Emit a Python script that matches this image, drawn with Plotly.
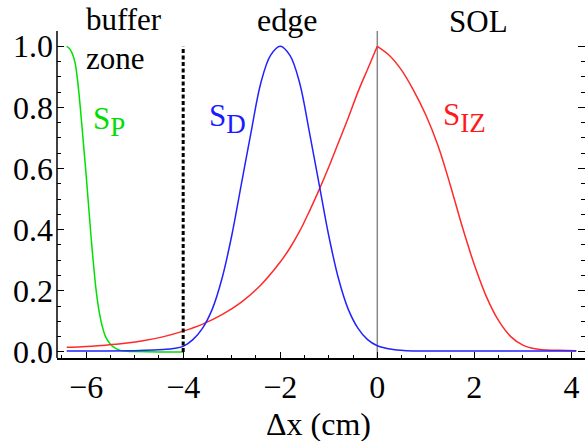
import plotly.graph_objects as go

# ---- data ----
sp_x = [-6.40, -6.33, -6.27, -6.22, -6.17, -6.12, -6.06, -6.00, -5.95, -5.90, -5.85,
        -5.80, -5.74, -5.67, -5.60, -5.50, -5.40, -5.30, -5.15, -5.00, -4.50, -4.00]
sp_y = [1.00, 0.99, 0.97, 0.94, 0.88, 0.80, 0.69, 0.58, 0.48, 0.38, 0.29,
        0.21, 0.14, 0.085, 0.05, 0.025, 0.012, 0.005, 0.002, 0.001, 0.0, 0.0]

sd_x = [-6.40, -5.60, -5.00, -4.60, -4.40, -4.20, -4.00, -3.80, -3.60, -3.40, -3.20, -3.00,
        -2.80, -2.60, -2.40, -2.20, -2.00, -1.80, -1.60, -1.40, -1.20, -1.00, -0.80,
        -0.60, -0.40, -0.20, 0.00, 0.20, 0.40, 0.60, 1.00, 2.00, 3.00, 4.10]
sd_y = [0.003, 0.003, 0.004, 0.006, 0.008, 0.011, 0.018, 0.040, 0.078, 0.14, 0.24, 0.38,
        0.55, 0.72, 0.88, 0.97, 1.00, 0.97, 0.88, 0.72, 0.55, 0.38, 0.24,
        0.14, 0.078, 0.040, 0.020, 0.011, 0.006, 0.004, 0.003, 0.003, 0.003, 0.003]

# S_IZ: inner side (x <= 0) and outer side (x >= 0) of the peak at the separatrix
siz_in_x = [-6.40, -6.00, -5.60, -5.20, -4.80, -4.40, -4.00, -3.60, -3.20, -2.80, -2.40,
            -2.00, -1.80, -1.60, -1.40, -1.20, -1.00, -0.80, -0.60, -0.40, -0.20, 0.00]
siz_in_y = [0.015, 0.018, 0.022, 0.028, 0.037, 0.050, 0.068, 0.091, 0.122, 0.163, 0.219,
            0.294, 0.340, 0.395, 0.460, 0.530, 0.605, 0.685, 0.765, 0.850, 0.925, 1.000]
siz_out_x = [0.00, 0.25, 0.50, 0.75, 1.00, 1.25, 1.50, 1.75, 2.00, 2.25, 2.50, 2.75,
             3.00, 3.25, 3.50, 3.75, 4.10]
siz_out_y = [1.000, 0.970, 0.922, 0.855, 0.775, 0.675, 0.548, 0.410, 0.285, 0.180, 0.102, 0.050,
             0.022, 0.010, 0.006, 0.005, 0.004]

x_ticks = [-6, -4, -2, 0, 2, 4]
x_tick_text = ["−6", "−4", "−2", "0", "2", "4"]
y_ticks = [0.0, 0.2, 0.4, 0.6, 0.8, 1.0]
y_tick_text = ["0.0", "0.2", "0.4", "0.6", "0.8", "1.0"]
boundary_dotted = -4
separatrix = 0

FONT = "Liberation Serif"
GREEN, BLUE, RED = "#00e000", "#2222ff", "#ff2a2a"

fig = go.Figure()
fig.add_trace(go.Scatter(x=sp_x, y=sp_y, mode="lines",
                         line=dict(color=GREEN, width=1.5, shape="spline", smoothing=0.8)))
fig.add_trace(go.Scatter(x=siz_in_x, y=siz_in_y, mode="lines",
                         line=dict(color=RED, width=1.5, shape="spline", smoothing=1.0)))
fig.add_trace(go.Scatter(x=siz_out_x, y=siz_out_y, mode="lines",
                         line=dict(color=RED, width=1.5, shape="spline", smoothing=1.0)))
fig.add_trace(go.Scatter(x=sd_x, y=sd_y, mode="lines",
                         line=dict(color=BLUE, width=1.5, shape="spline", smoothing=1.0)))

# vertical lines
fig.add_shape(type="line", xref="x", yref="paper", x0=separatrix, x1=separatrix, y0=0, y1=1,
              line=dict(color="#888888", width=1.5), layer="below")
fig.add_shape(type="line", xref="x", yref="y", x0=boundary_dotted, x1=boundary_dotted, y0=0, y1=1.0,
              line=dict(color="black", width=3, dash="4px,2.5px"))
# left frame line
fig.add_shape(type="line", xref="paper", yref="paper", x0=0, x1=0, y0=0, y1=1,
              line=dict(color="black", width=1.5))

PW, PH, L, T = 528, 327, 57, 31
def px(xp):
    return (xp - L) / PW
def py(yp):
    return (T + PH - yp) / PH

def sublabel(main, sub):
    return main + "<sub><span style='font-size:27px'>" + sub + "</span></sub>"

ann = [
    ("buffer", 124, 20, "black", "center", 31),
    ("zone", 115, 59, "black", "center", 31),
    ("edge", 287, 20, "black", "center", 32),
    ("SOL", 478, 21, "black", "center", 31),
    (sublabel("S", "P"), 91, 121, "#00dd00", "left", 31),
    (sublabel("S", "D"), 207, 119, "#1a1aff", "left", 31),
    (sublabel("S", "IZ"), 441, 118, "#ff1a1a", "left", 31),
    ("Δx (cm)", 318, 424, "black", "center", 32),
]
for txt, xx, yy, col, xa, fs in ann:
    fig.add_annotation(text=txt, x=px(xx), y=py(yy), xref="paper", yref="paper",
                       showarrow=False, xanchor=xa, yanchor="middle",
                       font=dict(family=FONT, size=fs, color=col))

fig.update_layout(
    width=585, height=441,
    margin=dict(l=L, r=585 - L - PW, t=T, b=441 - T - PH),
    paper_bgcolor="white", plot_bgcolor="white",
    showlegend=False,
    font=dict(family=FONT, size=32, color="black"),
)
fig.update_xaxes(range=[-6.60, 4.28], tickvals=x_ticks, ticktext=x_tick_text,
                 showgrid=False, zeroline=False, showline=True, linecolor="black", linewidth=1.5,
                 ticks="inside", ticklen=6, tickwidth=1.2, tickcolor="black",
                 minor=dict(dtick=0.5, ticks="inside", ticklen=3.5, tickwidth=1, tickcolor="black", showgrid=False),
                 tickfont=dict(family=FONT, size=32, color="black"))
fig.update_yaxes(range=[-0.02, 1.05], tickvals=y_ticks, ticktext=y_tick_text,
                 showgrid=False, zeroline=False, showline=False, mirror="ticks",
                 ticks="inside", ticklen=7, tickwidth=1.2, tickcolor="black", ticklabelstandoff=3,
                 minor=dict(dtick=0.05, tick0=0, ticks="inside", ticklen=4, tickwidth=1, tickcolor="black", showgrid=False),
                 tickfont=dict(family=FONT, size=32, color="black"))

fig.write_html("out.html")
